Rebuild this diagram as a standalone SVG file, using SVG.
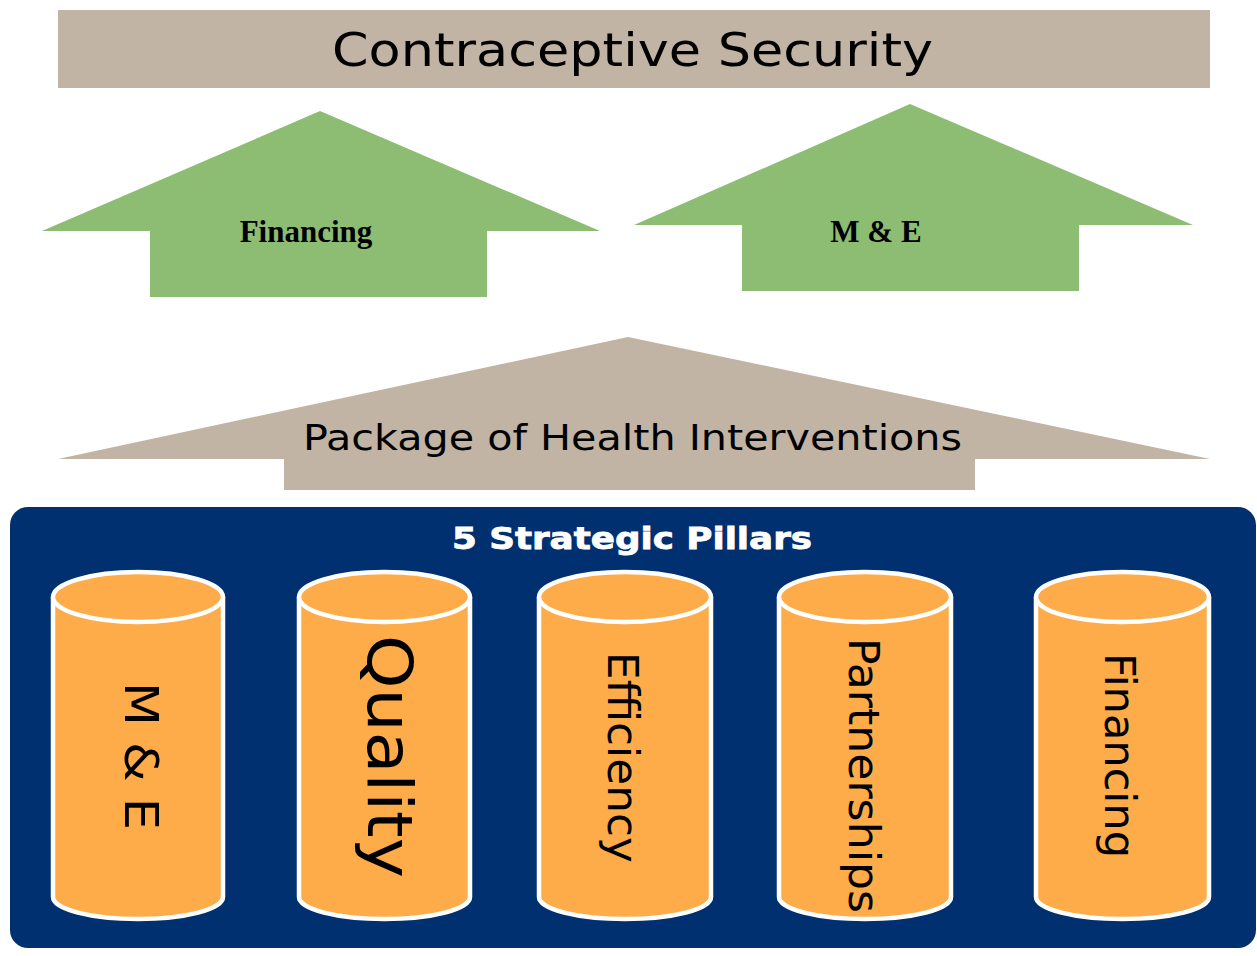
<svg xmlns="http://www.w3.org/2000/svg" width="1257" height="956" viewBox="0 0 1257 956">
<style>
.beige{fill:#C2B4A4}
.green{fill:#8CBD73}
.cyl{fill:#FEAC4A;stroke:#FFFFFF;stroke-width:4.5}
.t1{font-family:"DejaVu Sans","Liberation Sans",sans-serif;fill:#000}
.ser{font-family:"Liberation Serif",serif;font-weight:bold;fill:#000;font-size:31px;text-anchor:middle}
.pill{font-family:"DejaVu Sans","Liberation Sans",sans-serif;fill:#000}
</style>
<rect width="1257" height="956" fill="#FFFFFF"/>
<g id="top-bar">
<rect class="beige" x="58" y="10" width="1152" height="78"/>
<text class="t1" x="332" y="66" font-size="46" textLength="601" lengthAdjust="spacingAndGlyphs">Contraceptive Security</text>
</g>
<g id="arrow-financing">
<polygon class="green" points="320,111 600,231 487,231 487,297 150,297 150,231 42,231"/>
<text class="ser" x="306" y="242">Financing</text>
</g>
<g id="arrow-me">
<polygon class="green" points="910,104 1193,225 1079,225 1079,291 742,291 742,225 634,225"/>
<text class="ser" x="876" y="242">M &amp; E</text>
</g>
<g id="arrow-package">
<polygon class="beige" points="628,337 1210,459 975,459 975,490 284,490 284,459 58,459"/>
<text class="t1" x="303" y="450" font-size="36" textLength="659" lengthAdjust="spacingAndGlyphs">Package of Health Interventions</text>
</g>
<g id="pillars">
<rect x="10" y="507" width="1246" height="441" rx="18" fill="#003070"/>
<text x="452" y="549" font-family="DejaVu Sans, Verdana, sans-serif" font-weight="bold" font-size="30" fill="#FFFFFF" stroke="#FFFFFF" stroke-width="0.8" textLength="360" lengthAdjust="spacingAndGlyphs">5 Strategic Pillars</text>
</g>
<g id="pillar-me">
<path class="cyl" d="M53,597 L53,897 A85,22 0 0 0 223,897 L223,597"/>
<ellipse class="cyl" cx="138" cy="597" rx="85" ry="25"/>
<text class="pill" transform="translate(125,682) rotate(90)" font-size="46" textLength="148" lengthAdjust="spacingAndGlyphs">M &amp; E</text>
</g>
<g id="pillar-quality">
<path class="cyl" d="M299,597 L299,897 A85.5,22 0 0 0 470,897 L470,597"/>
<ellipse class="cyl" cx="384.5" cy="597" rx="85.5" ry="25"/>
<text class="pill" transform="translate(368,635) rotate(90)" font-size="62" textLength="243" lengthAdjust="spacingAndGlyphs">Quality</text>
</g>
<g id="pillar-efficiency">
<path class="cyl" d="M539,597 L539,897 A86,22 0 0 0 711,897 L711,597"/>
<ellipse class="cyl" cx="625" cy="597" rx="86" ry="25"/>
<text class="pill" transform="translate(608,652) rotate(90)" font-size="42" textLength="211" lengthAdjust="spacingAndGlyphs">Efficiency</text>
</g>
<g id="pillar-partnerships">
<path class="cyl" d="M779,597 L779,897 A86,22 0 0 0 951,897 L951,597"/>
<ellipse class="cyl" cx="865" cy="597" rx="86" ry="25"/>
<text class="pill" transform="translate(849,638) rotate(90)" font-size="42" textLength="275" lengthAdjust="spacingAndGlyphs">Partnerships</text>
</g>
<g id="pillar-financing">
<path class="cyl" d="M1036,597 L1036,897 A86.5,22 0 0 0 1209,897 L1209,597"/>
<ellipse class="cyl" cx="1122.5" cy="597" rx="86.5" ry="25"/>
<text class="pill" transform="translate(1105,653) rotate(90)" font-size="42" textLength="205" lengthAdjust="spacingAndGlyphs">Financing</text>
</g>
<g id="connectors"></g>
</svg>
